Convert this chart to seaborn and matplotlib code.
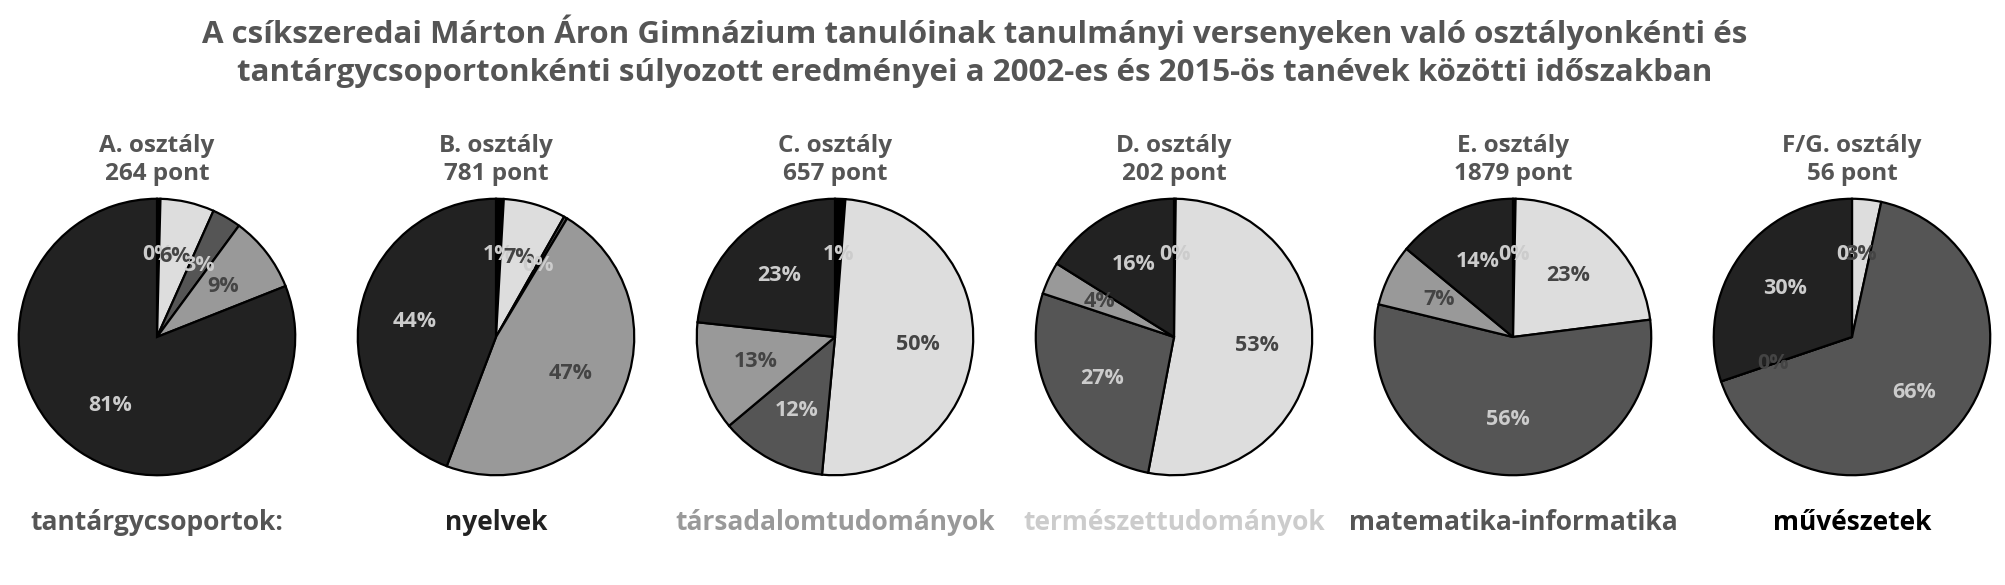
import matplotlib
matplotlib.use('Agg')
import seaborn as sns
import matplotlib.pyplot as plt

# Data (share of points in %, per class)
classes = ['A. osztály', 'B. osztály', 'C. osztály', 'D. osztály', 'E. osztály', 'F/G. osztály']
points = [264, 781, 657, 202, 1879, 56]
subjects = ['művészetek', 'természettudományok', 'matematika-informatika',
            'társadalomtudományok', 'nyelvek']
share_a = [0.4, 6.3, 3.4, 8.9, 81.0]
share_b = [0.9, 7.3, 0.4, 47.2, 44.2]
share_c = [1.2, 50.3, 12.4, 12.8, 23.3]
share_d = [0.2, 52.8, 27.1, 3.8, 16.1]
share_e = [0.3, 22.7, 55.8, 7.2, 14.0]
share_fg = [0.0, 3.4, 66.4, 0.0, 30.2]
shares = [share_a, share_b, share_c, share_d, share_e, share_fg]

legend_order = ['nyelvek', 'társadalomtudományok', 'természettudományok',
                'matematika-informatika', 'művészetek']

title = ('A csíkszeredai Márton Áron Gimnázium tanulóinak tanulmányi versenyeken való osztályonkénti és\n'
         'tantárgycsoportonkénti súlyozott eredményei a 2002-es és 2015-ös tanévek közötti időszakban')

sns.set_theme(style='white')
plt.rcParams['font.family'] = ['Open Sans', 'DejaVu Sans']

wedge_colors = sns.color_palette(['#000000', '#dddddd', '#555555', '#999999', '#222222'])
label_colors = ['#cccccc', '#444444', '#cccccc', '#444444', '#cccccc']
legend_colors = {'nyelvek': '#222222', 'társadalomtudományok': '#999999',
                 'természettudományok': '#cccccc', 'matematika-informatika': '#555555',
                 'művészetek': '#000000'}

W, H = 2006, 585
fig = plt.figure(figsize=(W / 100, H / 100), dpi=100)
fig.patch.set_facecolor('white')

fig.text(975 / W, 1 - 51 / H, title, ha='center', va='center', fontsize=22.5,
         fontweight='bold', color='#555555', linespacing=1.35)

r = 141
step = 339
for i, (name, pts, vals) in enumerate(zip(classes, points, shares)):
    cx, cy = 157 + step * i, 337
    ax = fig.add_axes([(cx - r) / W, (H - cy - r) / H, 2 * r / W, 2 * r / H])
    wedges, texts, autotexts = ax.pie(
        vals, colors=wedge_colors, startangle=90, counterclock=False,
        autopct='%.0f%%', pctdistance=0.6,
        wedgeprops=dict(edgecolor='black', linewidth=1.6),
        textprops=dict(fontsize=15.5, fontweight='bold'))
    for t, c in zip(autotexts, label_colors):
        t.set_color(c)
    ax.set_xlim(-1.02, 1.02)
    ax.set_ylim(-1.02, 1.02)
    ax.axis('off')
    fig.text(cx / W, 1 - 160 / H, f'{name}\n{pts} pont', ha='center', va='center',
             fontsize=17.5, fontweight='bold', color='#555555', linespacing=1.2)

# legend row under the pies
fig.text(157 / W, 1 - 522 / H, 'tantárgycsoportok:', ha='center', va='center',
         fontsize=19, fontweight='bold', color='#555555')
for i, subj in enumerate(legend_order):
    fig.text((157 + step * (i + 1)) / W, 1 - 522 / H, subj, ha='center', va='center',
             fontsize=19, fontweight='bold', color=legend_colors[subj])

plt.savefig('out.png', dpi=100)
